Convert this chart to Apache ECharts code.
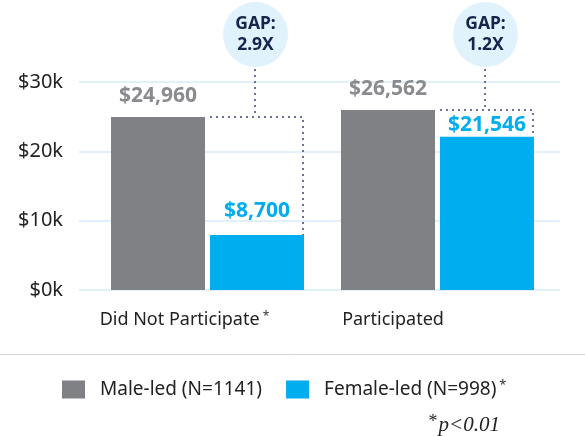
<!DOCTYPE html>
<html>
<head>
<meta charset="utf-8">
<style>
  html, body { margin: 0; padding: 0; background: #fff; }
  #chart { width: 585px; height: 436px; }
</style>
<script src="https://cdn.jsdelivr.net/npm/echarts@6/dist/echarts.min.js"></script>
</head>
<body>
<div id="chart"></div>
<script>
const categories = ['Did Not Participate', 'Participated']
const maleValues = [24960, 25960]
const femaleValues = [7930, 22110]
const maleLabels = ['$24,960', '$26,562']
const femaleLabels = ['$8,700', '$21,546']
const gapLabels = ['2.9X', '1.2X']
const yTicks = [0, 10000, 20000, 30000]

const FONT = 'Noto Sans'
const chart = echarts.init(document.getElementById('chart'))

const options = {
  animation: false,
  backgroundColor: '#fff',
  grid: [
    { left: 79, right: 25, top: 82, bottom: 146 },
    { left: 92.5, right: 32.5, top: 82, bottom: 146 }
  ],
  legend: {
    left: 62,
    top: 379,
    padding: 0,
    icon: 'rect',
    itemWidth: 23,
    itemHeight: 18,
    itemGap: 24,
    data: ['Male-led (N=1141)', 'Female-led (N=998)'],
    formatter: name => name.indexOf('Female') === 0 ? '{n|' + name + '}{s|*}' : '{n|' + name + '}',
    textStyle: {
      rich: {
        n: { fontFamily: FONT, fontSize: 19, color: '#222', padding: [0, 0, 0, 10] },
        s: { fontFamily: FONT, fontSize: 13, color: '#333', padding: [0, 0, 8, 3] }
      }
    }
  },
  xAxis: [{
    type: 'category',
    gridIndex: 0,
    show: false,
    data: categories
  }, {
    type: 'category',
    gridIndex: 1,
    data: categories,
    axisLine: { show: false },
    axisTick: { show: false },
    axisLabel: {
      margin: 21,
      formatter: (v, i) => i === 0 ? '{t|' + v + '}{s1| *}' : '{t2|' + v + '}',
      rich: {
        t: { fontFamily: FONT, fontSize: 18, color: '#222' },
        s1: { fontFamily: FONT, fontSize: 12, color: '#333', padding: [0, 46, 6, 0] },
        t2: { fontFamily: FONT, fontSize: 18, color: '#222', padding: [0, 89, 0, 0] }
      }
    }
  }],
  yAxis: [{
    type: 'value',
    gridIndex: 0,
    min: yTicks[0],
    max: yTicks[yTicks.length - 1],
    interval: yTicks[1] - yTicks[0],
    axisLine: { show: false },
    axisTick: { show: false },
    splitLine: { lineStyle: { color: '#e2f0fa', width: 2 } },
    axisLabel: {
      margin: 16,
      fontFamily: FONT,
      fontSize: 20,
      color: '#222',
      formatter: v => '$' + (v / 1000) + 'k'
    }
  }, {
    type: 'value',
    gridIndex: 1,
    min: yTicks[0],
    max: yTicks[yTicks.length - 1],
    show: false,
    splitLine: { show: false }
  }],
  series: [{
    name: 'Male-led (N=1141)',
    type: 'bar',
    xAxisIndex: 1,
    yAxisIndex: 1,
    barWidth: 94,
    barGap: '5.3%',
    itemStyle: { color: '#808184' },
    label: {
      show: true,
      position: 'top',
      distance: 10,
      fontFamily: FONT,
      fontWeight: 'bold',
      fontSize: 21,
      color: '#8a8b8e',
      formatter: p => maleLabels[p.dataIndex]
    },
    data: maleValues
  }, {
    name: 'Female-led (N=998)',
    type: 'bar',
    xAxisIndex: 1,
    yAxisIndex: 1,
    barWidth: 94,
    itemStyle: { color: '#00adee' },
    label: {
      show: true,
      position: 'top',
      distance: 14,
      fontFamily: FONT,
      fontWeight: 'bold',
      fontSize: 21,
      color: '#00adee',
      formatter: p => femaleLabels[p.dataIndex]
    },
    // second label sits tight under the dotted connector
    data: femaleValues.map((v, i) => i === 1 ? { value: v, label: { distance: 1 } } : v)
  }]
}

chart.setOption(options)

// gap bubbles and dotted connectors, placed from the bar scale
const dot = { stroke: '#6c7197', lineWidth: 2, lineDash: [2, 4] }
const elements = []
categories.forEach((c, i) => {
  const center = chart.convertToPixel({ gridIndex: 1 }, [i, 0])[0]
  const fx = center + 49.5
  const maleY = chart.convertToPixel({ gridIndex: 1 }, [i, maleValues[i]])[1]
  const femaleY = chart.convertToPixel({ gridIndex: 1 }, [i, femaleValues[i]])[1]
  elements.push({
    type: 'polyline',
    shape: { points: [[fx - 2, 69], [fx - 2, maleY]] },
    style: dot
  }, {
    type: 'polyline',
    shape: { points: [[fx - 47, maleY], [fx + 46, maleY], [fx + 46, femaleY]] },
    style: dot
  }, {
    type: 'circle',
    shape: { cx: fx - 1.5, cy: 34.5, r: 32.5 },
    style: { fill: '#e0f2fc' }
  }, {
    type: 'text',
    x: fx - 1.5,
    y: 35,
    style: {
      text: 'GAP:\n' + gapLabels[i],
      align: 'center',
      verticalAlign: 'middle',
      fontFamily: FONT,
      fontWeight: 'bold',
      fontSize: 17.5,
      lineHeight: 21,
      fill: '#15254b'
    }
  })
})
elements.push({
  type: 'line',
  shape: { x1: 0, y1: 354.5, x2: 585, y2: 354.5 },
  style: { stroke: '#d4d4d4', lineWidth: 1 }
}, {
  type: 'text',
  x: 500,
  y: 425,
  style: {
    text: '{a|*}{b|p<0.01}',
    align: 'right',
    verticalAlign: 'middle',
    rich: {
      a: { fontFamily: 'Liberation Serif', fontSize: 18, fill: '#222', padding: [0, 1, 6, 0] },
      b: { fontFamily: 'Liberation Serif', fontStyle: 'italic', fontSize: 21, fill: '#222' }
    }
  }
})
chart.setOption({ graphic: { elements } })
</script>
</body>
</html>
